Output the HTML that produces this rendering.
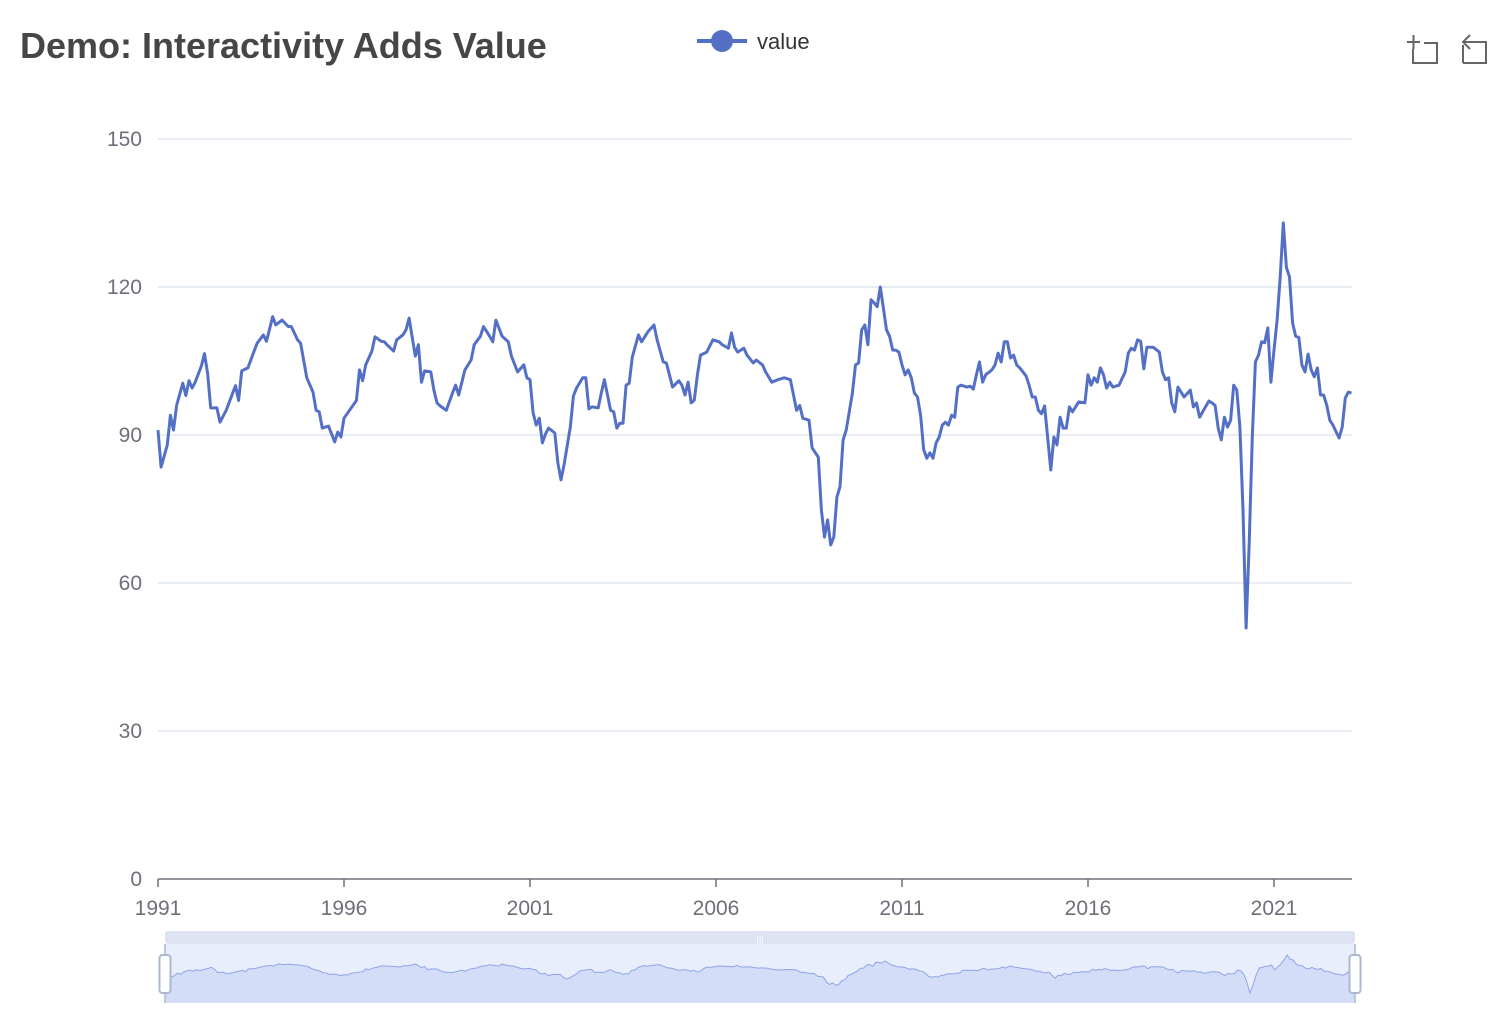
<!DOCTYPE html>
<html><head><meta charset="utf-8">
<style>
html,body{margin:0;padding:0;background:#fff;}
body{width:1510px;height:1030px;overflow:hidden;font-family:"Liberation Sans",Arial,sans-serif;}
</style></head>
<body>
<svg id="chart" width="1510" height="1030" xmlns="http://www.w3.org/2000/svg" font-family="Liberation Sans, Arial, sans-serif">
  <text x="20" y="58" font-size="36" font-weight="bold" fill="#464646">Demo: Interactivity Adds Value</text>
  <g>
    <line x1="697" y1="41" x2="747" y2="41" stroke="#5470c6" stroke-width="4"/>
    <circle cx="722" cy="41" r="11" fill="#5470c6"/>
    <text x="757" y="49" font-size="22" fill="#333">value</text>
  </g>
  <g fill="none" stroke="#666" stroke-width="2">
    <path d="M1407 42 H1420 M1413.5 35 V49"/>
    <path d="M1413 49 V63 H1437 V43 H1424"/>
  </g>
  <g fill="none" stroke="#666" stroke-width="2">
    <path d="M1463 63 V45 M1463 63 H1486 V42 H1464"/>
    <path d="M1470 35 L1463 42 L1470 49"/>
  </g>
  <g id="grid"></g>
  <g id="yaxis"></g>
  <g id="xaxis"></g>
  <g id="series"></g>
  <g id="slider"></g>
</svg>
<script>
const months = [0,1,3,4,5,6,8,9,10,11,12,14,15,16,17,19,20,22,25,26,27,29,31,32,34,35,37,38,40,42,43,45,46,48,50,51,52,53,55,57,58,59,60,64,65,66,67,69,70,72,73,74,76,77,79,80,81,83,84,85,86,88,89,90,91,93,95,96,97,99,101,102,104,105,107,108,109,111,113,114,115,116,118,119,120,121,122,123,124,125,126,128,129,130,131,133,134,135,137,138,139,140,142,143,144,146,147,148,149,150,151,152,153,155,156,158,160,161,163,164,166,168,169,170,171,172,173,174,175,177,179,181,182,184,185,186,187,189,190,192,193,195,196,198,200,202,204,205,206,207,208,210,211,213,214,215,216,217,218,219,220,221,222,224,225,226,227,228,229,230,231,232,233,234,235,236,237,238,239,240,241,242,243,244,245,246,247,248,249,250,251,252,253,254,255,256,257,258,259,261,262,263,264,265,266,267,269,270,271,272,273,274,275,276,277,278,280,281,282,283,284,285,286,288,289,290,291,292,293,294,295,297,299,300,301,302,303,304,305,306,307,308,310,312,313,314,315,316,317,318,319,321,323,324,325,326,327,328,329,331,333,334,335,336,337,339,340,341,342,343,344,345,346,347,348,349,350,351,352,353,354,355,356,357,358,359,360,361,362,363,364,365,366,367,368,369,370,371,372,373,374,375,376,377,378,379,381,382,383,384,385];
const values = [91,83.5,88,94,91,96,100.5,98,101,99.5,100.7,104,106.5,102.5,95.5,95.5,92.6,95,100,97,103,103.6,107,108.6,110.3,109,114,112.3,113.3,112,112,109.3,108.6,101.6,98.7,95,94.7,91.4,91.8,88.6,90.6,89.6,93.4,97,103.2,101,104.2,107,109.9,109,108.9,108.2,107,109.3,110.3,111.3,113.7,106,108.3,100.7,103,102.8,99.1,96.5,95.9,95,98.5,100.1,98.1,103.2,105.2,108.3,110,112,110,108.9,113.3,110,108.9,106,104.4,102.8,104.2,101.6,101.2,94.5,92,93.4,88.4,90.2,91.4,90.4,84.3,80.9,84,91.6,97.9,99.5,101.6,101.6,95.3,95.7,95.5,98.5,101.2,95,94.7,91.4,92.4,92.4,100.1,100.5,105.8,110.3,108.9,110.9,112.3,109.3,104.8,104.6,99.7,101,100.1,98.1,100.7,96.5,97.1,102.2,106.2,106.8,109.3,108.9,108.3,107.6,110.7,107.8,106.8,107.6,106.2,104.6,105.2,104.2,102.8,100.7,101.2,101.6,101.2,98.1,95,96,93.4,93,87.4,85.5,74.8,69.3,72.8,67.7,69.3,77.4,79.5,89,91,98.5,104.2,104.6,111.3,112.3,108.3,117.4,116.8,116,120,115.7,111.3,110,107.2,107.2,106.8,104.2,102.2,103.2,101.6,98.5,97.7,94,87,85.3,86.4,85.3,88.4,89.6,92,92.6,92,94,93.6,99.7,100.1,99.7,99.9,99.3,102.2,104.8,100.7,102.2,103.2,104.2,106.6,104.8,108.9,108.9,105.6,106.2,104.2,103.6,102,100.1,97.7,97.7,95,94.3,95.9,82.9,89.6,88,93.6,91.4,91.4,95.7,94.7,96.7,96.5,102.2,100.1,101.6,100.7,103.6,102.2,99.5,100.7,99.7,100.1,102.8,106.6,107.6,107.2,109.3,109,103.4,107.8,107.8,106.8,102.8,101.2,101.6,96.5,94.7,99.7,97.7,99.1,95.7,96.5,93.6,94.7,96.9,96.5,96,91.4,89,93.6,91.6,93,100.1,99.1,91.6,74.8,50.9,68,89.6,104.8,106.2,108.9,108.7,111.7,100.7,107.2,113.3,122,133,124,122,112.7,110,109.8,104.2,102.8,106.4,103.2,101.8,103.6,98.1,98.1,96.1,93,92,89.4,91.6,97.5,98.7,98.5];
const yTicks = [0,30,60,90,120,150];
const xTickLabels = ["1991","1996","2001","2006","2011","2016","2021"];
const xTickMonths = [0,60,120,180,240,300,360];

const NS="http://www.w3.org/2000/svg";
const X0=158, PXM=3.1, Y0=879, PXV=740/150;
const xs=m=>X0+m*PXM, ys=v=>Y0-v*PXV;
function mk(tag,attrs,parent){const e=document.createElementNS(NS,tag);for(const k in attrs)e.setAttribute(k,attrs[k]);parent.appendChild(e);return e;}
const gridG=document.getElementById('grid'),yaG=document.getElementById('yaxis'),xaG=document.getElementById('xaxis'),serG=document.getElementById('series'),slG=document.getElementById('slider');
yTicks.forEach(t=>{
  if(t>0){const l=mk('line',{x1:158,x2:1352,y1:ys(t),y2:ys(t),stroke:'#e0e6f1','stroke-width':1.5},gridG);
  
  }
  const tx=mk('text',{x:142,y:ys(t)+7,'text-anchor':'end','font-size':21,fill:'#6e7079'},yaG);
  tx.textContent=t;
  
  
});
const axLine=mk('line',{x1:158,x2:1352,y1:Y0,y2:Y0,stroke:'#6e7079','stroke-width':1.5},xaG);


xTickMonths.forEach((m,i)=>{
  const tk=mk('line',{x1:xs(m),x2:xs(m),y1:Y0,y2:Y0+8,stroke:'#6e7079','stroke-width':1.5},xaG);
  
  
  const tx=mk('text',{x:xs(m),y:915,'text-anchor':'middle','font-size':21,fill:'#6e7079'},xaG);
  tx.textContent=xTickLabels[i];
  
  
});
const lineD=months.map((m,i)=>(i?'L':'M')+xs(m).toFixed(1)+' '+ys(values[i]).toFixed(1)).join(' ');
const seriesLine=mk('path',{d:lineD,fill:'none',stroke:'#5470c6','stroke-width':3,'stroke-linejoin':'round'},serG);



const SX0=165,SX1=1355;
const sliderBg=mk('rect',{x:SX0,y:944,width:SX1-SX0,height:59,fill:'#e8eefc'},slG);


const moveBar=mk('rect',{x:SX0,y:931,width:SX1-SX0,height:13,rx:3,fill:'#dde3f0'},slG);


const grip=mk('text',{x:760,y:942,'text-anchor':'middle','font-size':9,fill:'#fff'},slG);
grip.textContent='|||';


const vmin=Math.min(...values),vmax=Math.max(...values),mmax=months[months.length-1];
const sxs=m=>SX0+m*(SX1-SX0)/mmax, sys=v=>993-(v-vmin)*38/(vmax-vmin);
const sd=months.map((m,i)=>(i?'L':'M')+sxs(m).toFixed(1)+' '+sys(values[i]).toFixed(1)).join(' ');
const sArea=mk('path',{d:sd+' L'+SX1+' 1003 L'+SX0+' 1003 Z',fill:'#d3ddf8'},slG);


const sLine=mk('path',{d:sd,fill:'none',stroke:'#8fa5e8','stroke-width':1},slG);


[SX0,SX1].forEach((x,i)=>{
  const b=mk('line',{x1:x,x2:x,y1:944,y2:1003,stroke:'#acb8d1','stroke-width':1.5},slG);
  
  
  const h=mk('rect',{x:x-5.5,y:955,width:11,height:38,rx:3,fill:'#fff',stroke:'#acb8d1','stroke-width':2},slG);
  
  
});
</script>
</body></html>
